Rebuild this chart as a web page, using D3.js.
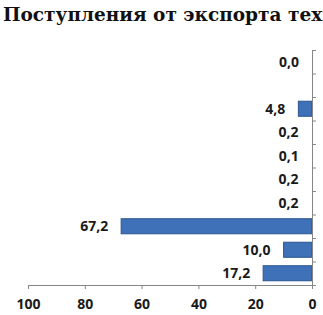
<!DOCTYPE html>
<html>
<head>
<meta charset="utf-8">
<script src="https://cdn.jsdelivr.net/npm/d3@7"></script>
<style>
  body { margin: 0; background: #fff; }
  svg { display: block; }
</style>
</head>
<body>
<svg id="chart" width="323" height="315"></svg>
<script>
// categories top to bottom (category names are not shown on the chart)
var categories = ["c1", "c2", "c3", "c4", "c5", "c6", "c7", "c8", "c9", "c10"];
var values = [0.0, null, 4.8, 0.2, 0.1, 0.2, 0.2, 67.2, 10.0, 17.2];
var xTicks = [0, 20, 40, 60, 80, 100];
var title = "Поступления от экспорта технологий";

var svg = d3.select("#chart"),
    margin = { top: 50, right: 11, bottom: 30, left: 28 },
    width = +svg.attr("width"),
    height = +svg.attr("height");

var data = categories.map(function (c, i) { return { cat: c, value: values[i] }; });

var x = d3.scaleLinear().domain([0, 100]).range([width - margin.right, margin.left]);
var y = d3.scaleBand().domain(categories)
    .range([margin.top, height - margin.bottom])
    .paddingInner(0.36).paddingOuter(0.18);
var yEdge = d3.scaleLinear().domain([0, categories.length])
    .range([margin.top, height - margin.bottom]);

var axisColor = "#868686";

// the title runs past the right edge, as in the source image
svg.append("text")
    .attr("x", 3)
    .attr("y", 21)
    .attr("font-family", "DejaVu Serif")
    .attr("font-weight", "bold")
    .attr("font-size", 18.5)
    .attr("fill", "#111")
    .text(title);

svg.append("g")
    .selectAll("rect")
    .data(data.filter(function (d) { return d.value !== null && d.value > 0.5; }))
    .enter().append("rect")
    .attr("x", function (d) { return x(d.value); })
    .attr("y", function (d) { return y(d.cat); })
    .attr("width", function (d) { return x(0) - x(d.value); })
    .attr("height", y.bandwidth())
    .attr("fill", "#3f71b8")
    .attr("stroke", "#2b5590")
    .attr("stroke-width", 1);

svg.append("g")
    .selectAll("text")
    .data(data.filter(function (d) { return d.value !== null; }))
    .enter().append("text")
    .attr("x", function (d) { return x(d.value) - 13; })
    .attr("y", function (d) { return y(d.cat) + y.bandwidth() / 2; })
    .attr("dy", "0.36em")
    .attr("text-anchor", "end")
    .attr("font-family", "Open Sans")
    .attr("font-weight", "bold")
    .attr("font-size", 14)
    .attr("fill", "#1a1a1a")
    .text(function (d) { return d.value.toFixed(1).replace(".", ","); });

// vertical axis at zero, ticks at category boundaries
var yAxis = svg.append("g")
    .attr("transform", "translate(" + x(0) + ",0)")
    .call(d3.axisRight(yEdge).tickValues(d3.range(categories.length + 1))
        .tickFormat("").tickSize(4).tickSizeOuter(0));
yAxis.select(".domain").attr("stroke", axisColor);
yAxis.selectAll(".tick line").attr("stroke", axisColor);

var xAxis = svg.append("g")
    .attr("transform", "translate(0," + (height - margin.bottom) + ")")
    .call(d3.axisBottom(x).tickValues(xTicks).tickSize(4).tickSizeOuter(0).tickPadding(10));
xAxis.select(".domain").attr("stroke", axisColor);
xAxis.selectAll(".tick line").attr("stroke", axisColor);
xAxis.selectAll(".tick text")
    .attr("font-family", "Open Sans")
    .attr("font-weight", "bold")
    .attr("font-size", 14)
    .attr("fill", "#1a1a1a");
</script>
</body>
</html>
